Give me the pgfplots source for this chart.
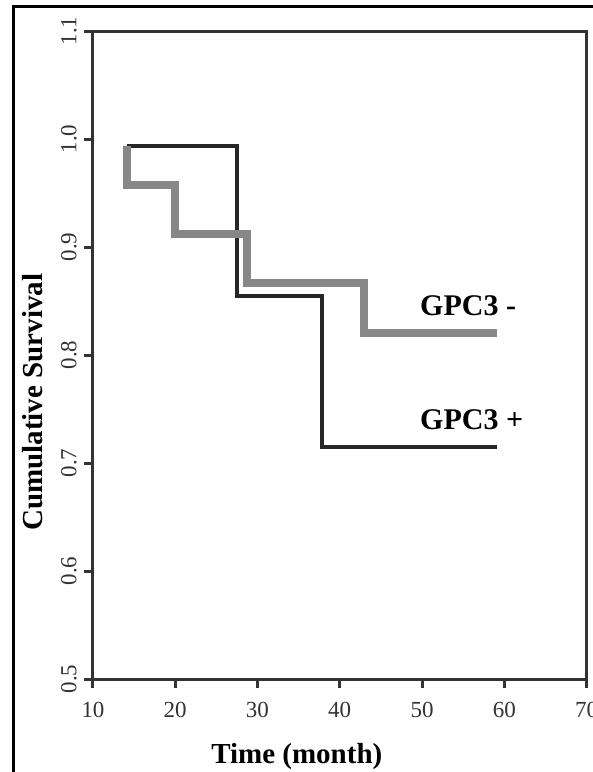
\documentclass[border=0pt]{standalone}
\usepackage{pgfplots}
\pgfplotsset{compat=1.18}
\usepackage{fontspec}
\setmainfont{Liberation Serif}
\definecolor{axisgray}{HTML}{333333}
\definecolor{posline}{HTML}{262626}
\definecolor{negline}{HTML}{878787}
\begin{document}
\begin{tikzpicture}[x=1pt,y=1pt]
\useasboundingbox (0,0) rectangle (593,772);
% outer frame (cut by the page at right and bottom)
\draw[line width=3pt,black] (13.5,-20) -- (13.5,765.5) -- (640,765.5);
\begin{axis}[
  at={(93pt,93pt)}, anchor=south west,
  scale only axis,
  width=493.5pt, height=648pt,
  xmin=10, xmax=70, ymin=0.5, ymax=1.1,
  xtick={10,20,...,70},
  ytick={0.5,0.6,...,1.1},
  xtick pos=bottom, ytick pos=left,
  tick align=outside,
  major tick length=9pt,
  axis line style={line width=3pt, axisgray},
  every tick/.style={line width=3pt, axisgray},
  /pgf/number format/assume math mode=true,
  yticklabel style={/pgf/number format/.cd, fixed, fixed zerofill, precision=1, /tikz/.cd},
  ticklabel style={font=\fontsize{23}{27}\selectfont, text=axisgray},
  yticklabel style={rotate=90, anchor=south, inner sep=0pt, yshift=7pt},
  xticklabel style={anchor=north, inner sep=0pt, yshift=-14pt},
  xlabel={\textbf{Time (month)}},
  ylabel={\textbf{Cumulative Survival}},
  label style={font=\fontsize{29}{33}\selectfont},
  xlabel style={at={(axis description cs:0.413,0)}, anchor=base, inner sep=0pt, yshift=-84pt},
  ylabel style={at={(axis description cs:0,0.427)}, anchor=base, inner sep=0pt, yshift=50pt},
  clip=false,
]
% GPC3 +
\addplot[const plot, line width=4pt, posline] coordinates {
  (14.19,0.9935) (27.45,0.855) (37.88,0.715) (59.1,0.715)
};
% GPC3 -
\addplot[const plot, line width=8pt, negline] coordinates {
  (14.19,0.9935) (14.19,0.957) (19.98,0.912) (28.67,0.867) (42.93,0.820) (59.1,0.820)
};
\node[anchor=base west, inner sep=0pt, font=\fontsize{30}{34}\selectfont\bfseries] at (axis cs:49.76,0.837) {GPC3 -};
\node[anchor=base west, inner sep=0pt, font=\fontsize{30}{34}\selectfont\bfseries] at (axis cs:49.76,0.7306) {GPC3 +};
\end{axis}
\end{tikzpicture}
\end{document}
